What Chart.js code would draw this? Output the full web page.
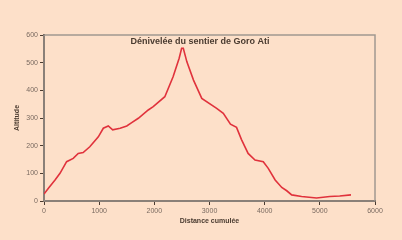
<!DOCTYPE html>
<html>
<head>
<meta charset="utf-8">
<script src="https://cdn.jsdelivr.net/npm/chart.js@4"></script>
<style>
  html, body { margin: 0; padding: 0; background: #fde0c9; }
  #wrap { width: 402px; height: 240px; }
</style>
</head>
<body>
<div id="wrap"><canvas id="c" width="402" height="240"></canvas></div>
<script>
// Profil du sentier de Goro Ati (distance cumulée en m, altitude en m)
const distances = [0, 80, 200, 290, 410, 530, 620, 710, 830, 985, 1075, 1165, 1245, 1380, 1500, 1590, 1710, 1890, 1980, 2190, 2340, 2450, 2495, 2525, 2590, 2710, 2860, 3130, 3250, 3380, 3490, 3580, 3700, 3825, 3975, 4065, 4190, 4310, 4400, 4490, 4670, 4940, 5180, 5360, 5565];
const altitudes = [25, 46, 76, 100, 142, 154, 172, 175, 196, 232, 263, 271, 257, 263, 271, 283, 299, 329, 341, 377, 449, 516, 552, 552, 503, 437, 371, 335, 317, 278, 266, 222, 172, 148, 142, 118, 76, 49, 37, 22, 16, 11, 16, 18, 22];
const xTicks = [0, 1000, 2000, 3000, 4000, 5000, 6000];
const yTicks = [0, 100, 200, 300, 400, 500, 600];

const points = distances.map((d, i) => ({ x: d, y: altitudes[i] }));

const ink = '#4a3b30';
const tickGrey = '#7a6a60';
const fam = '"Liberation Sans", Arial, sans-serif';

// cadre gris + titre dans la zone du graphique
const framePlugin = {
  id: 'frame',
  beforeDatasetsDraw(chart) {
    const { ctx, chartArea: a } = chart;
    ctx.save();
    ctx.strokeStyle = '#a09890';
    ctx.lineWidth = 1.5;
    ctx.strokeRect(a.left, a.top, a.right - a.left, a.bottom - a.top);
    ctx.restore();
  },
  afterDraw(chart) {
    const { ctx } = chart;
    ctx.save();
    ctx.fillStyle = ink;
    ctx.font = 'bold 9px ' + fam;
    ctx.textAlign = 'center';
    ctx.textBaseline = 'middle';
    ctx.fillText('Dénivelée du sentier de Goro Ati', 200, 42);
    ctx.restore();
  }
};

new Chart(document.getElementById('c'), {
  type: 'scatter',
  data: {
    datasets: [{
      data: points,
      showLine: true,
      borderColor: '#e0323c',
      borderWidth: 1.6,
      pointRadius: 0,
      tension: 0,
    }],
  },
  options: {
    responsive: false,
    animation: false,
    layout: { padding: { left: 0, right: 27, top: 35, bottom: 0 } },
    plugins: {
      legend: { display: false },
      tooltip: { enabled: false },
    },
    scales: {
      x: {
        type: 'linear',
        min: 0,
        max: 6000,
        afterBuildTicks: (s) => { s.ticks = xTicks.map(v => ({ value: v })); },
        afterFit: (s) => { s.height = 39; },
        border: { color: ink, width: 2 },
        grid: { drawOnChartArea: false, drawTicks: true, tickLength: 4, color: ink, lineWidth: 1 },
        ticks: { color: tickGrey, padding: 2, font: { size: 7, family: fam }, maxRotation: 0, callback: (v) => String(v) },
        title: {
          display: true,
          text: 'Distance cumulée',
          color: ink,
          font: { size: 7, weight: 'bold', family: fam },
          padding: { top: 4, bottom: 15 },
        },
      },
      y: {
        min: 0,
        max: 600,
        afterBuildTicks: (s) => { s.ticks = yTicks.map(v => ({ value: v })); },
        afterFit: (s) => { s.width = 44; },
        border: { color: ink, width: 2 },
        grid: { drawOnChartArea: false, drawTicks: true, tickLength: 4, color: ink, lineWidth: 1 },
        ticks: { color: tickGrey, padding: 2, font: { size: 7, family: fam }, callback: (v) => String(v) },
        title: {
          display: true,
          text: 'Altitude',
          color: ink,
          font: { size: 7, weight: 'bold', family: fam },
          padding: { top: 13, bottom: 0 },
        },
      },
    },
  },
  plugins: [framePlugin],
});
</script>
</body>
</html>
